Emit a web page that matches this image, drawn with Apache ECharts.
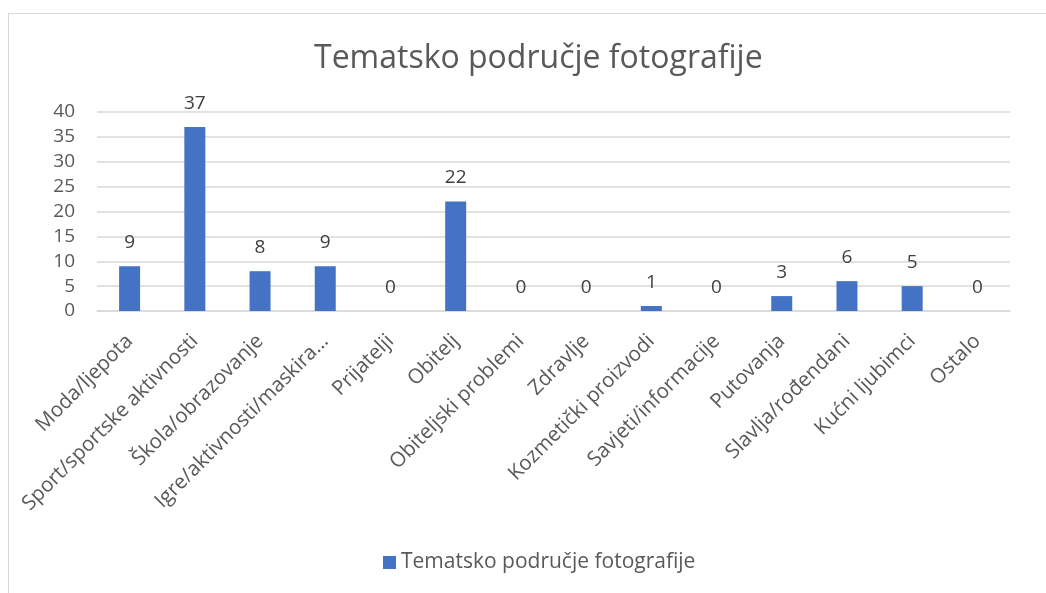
<!DOCTYPE html>
<html>
<head>
<meta charset="utf-8">
<script src="https://cdn.jsdelivr.net/npm/echarts@6/dist/echarts.min.js"></script>
<style>
  html, body { margin: 0; padding: 0; background: #fff; }
  #frame { position: absolute; left: 8px; top: 13px; width: 1046px; height: 600px; border: 1px solid #d9d9d9; box-sizing: border-box; }
  #main { position: absolute; left: 0; top: 0; width: 1046px; height: 593px; }
</style>
</head>
<body>
<div id="frame"></div>
<div id="main"></div>
<script>
// kategorije i vrijednosti
const categories = ['Moda/ljepota', 'Sport/sportske aktivnosti', 'Škola/obrazovanje', 'Igre/aktivnosti/maskira…',
  'Prijatelji', 'Obitelj', 'Obiteljski problemi', 'Zdravlje', 'Kozmetički proizvodi',
  'Savjeti/informacije', 'Putovanja', 'Slavlja/rođendani', 'Kućni ljubimci', 'Ostalo']
const values = [9, 37, 8, 9, 0, 22, 0, 0, 1, 0, 3, 6, 5, 0]
const seriesName = 'Tematsko područje fotografije'

const font = '"Open Sans", sans-serif'
const grey = '#595959'

let myChart = echarts.init(document.getElementById('main'))
let option = {
  animation: false,
  textStyle: { fontFamily: font },
  title: {
    text: seriesName,
    left: 309,
    top: 38,
    textStyle: { color: grey, fontSize: 32, fontWeight: 'normal', fontFamily: font }
  },
  legend: {
    bottom: 15,
    left: 378,
    itemWidth: 13,
    itemHeight: 13,
    itemGap: 8,
    icon: 'rect',
    textStyle: { color: grey, fontSize: 21, fontFamily: font },
    data: [seriesName]
  },
  grid: { left: 97, right: 36, top: 112, bottom: 282 },
  xAxis: {
    type: 'category',
    data: categories,
    axisLine: { lineStyle: { color: '#d9d9d9', width: 1.5 } },
    axisTick: { show: false },
    axisLabel: { rotate: 45, interval: 0, color: grey, fontSize: 20.5, margin: 27, fontFamily: font }
  },
  yAxis: {
    type: 'value',
    min: 0,
    max: 40,
    interval: 5,
    axisLine: { show: false },
    axisTick: { show: false },
    axisLabel: { color: grey, fontSize: 19, margin: 22, fontFamily: font },
    splitLine: { lineStyle: { color: '#d9d9d9', width: 1.5 } }
  },
  series: [{
    name: seriesName,
    type: 'bar',
    data: values,
    barWidth: 21,
    itemStyle: { color: '#4472c4' },
    label: { show: true, position: 'top', distance: 14, color: '#404040', fontSize: 19, fontFamily: font }
  }]
}
myChart.setOption(option)
</script>
</body>
</html>
